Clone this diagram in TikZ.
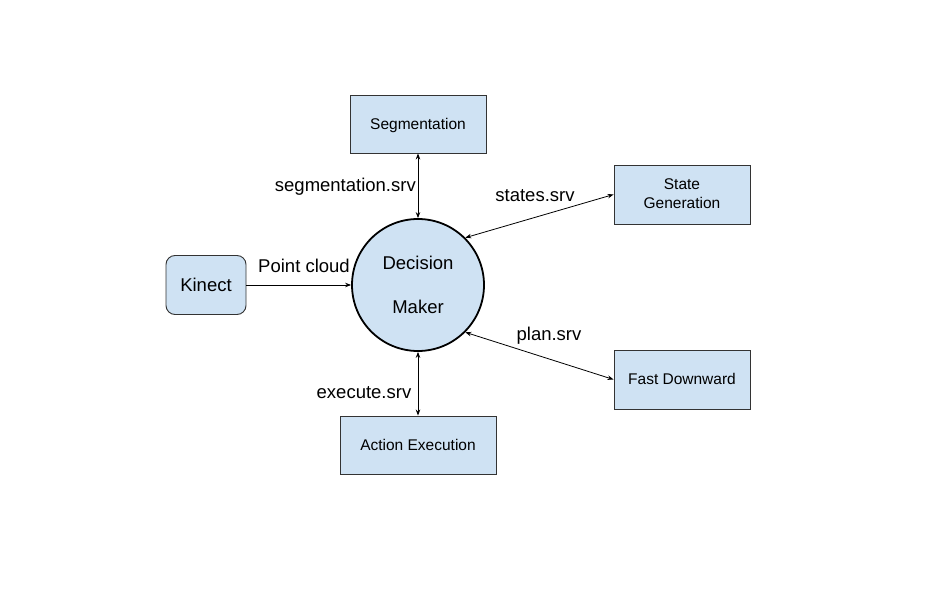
\documentclass[tikz,border=0pt]{standalone}
\usepackage{fontspec}
\setmainfont{Liberation Sans}
\usetikzlibrary{arrows.meta}
\definecolor{boxblue}{HTML}{CFE2F3}
\definecolor{boxline}{HTML}{333333}
\tikzset{
  comp/.style={draw=boxline, line width=0.9pt, fill=boxblue, align=center,
    font=\fontsize{15.5}{19}\selectfont, inner sep=0pt, text depth=1pt},
  lbl/.style={font=\fontsize{18.5}{22}\selectfont, inner sep=0pt},
  link/.style={line width=0.8pt, {Stealth[length=6pt,width=4.5pt]}-{Stealth[length=6pt,width=4.5pt]}},
  onelink/.style={line width=0.8pt, -{Stealth[length=6pt,width=4.5pt]}}
}
\begin{document}
\begin{tikzpicture}[x=1pt,y=-1pt]
\useasboundingbox (0,0) rectangle (940,593);
\node[draw=black, line width=1.8pt, fill=boxblue, circle, minimum size=132pt, inner sep=0pt,
  align=center, font=\fontsize{18.5}{22}\selectfont] (dm) at (418,285) {Decision\\[22pt]Maker};
\node[comp, minimum width=136pt, minimum height=58pt] (seg) at (418,124) {Segmentation};
\node[comp, minimum width=136pt, minimum height=59pt] (sg) at (682,194.5) {State\\Generation};
\node[comp, minimum width=136pt, minimum height=59pt] (fd) at (682,379.5) {Fast Downward};
\node[comp, minimum width=156pt, minimum height=58pt] (ae) at (418,445) {Action Execution};
\node[comp, rounded corners=9pt, minimum width=80pt, minimum height=59pt,
  font=\fontsize{18.5}{22}\selectfont] (kin) at (206,285) {Kinect};
\draw[link] (seg.south) -- (dm.north);
\draw[link] (ae.north) -- (dm.south);
\draw[link] (sg.west) -- (dm.45.6);
\draw[link] (fd.west) -- (dm.-45.6);
\draw[onelink] (kin.east) -- (dm.west);
\node[lbl, anchor=east] (l1) at (416,187) {segmentation.srv};
\node[lbl] (l2) at (535,196) {states.srv};
\node[lbl] (l3) at (304,266) {Point cloud};
\node[lbl] (l4) at (549,336) {plan.srv};
\node[lbl] (l5) at (364,393) {execute.srv};
\end{tikzpicture}
\end{document}
